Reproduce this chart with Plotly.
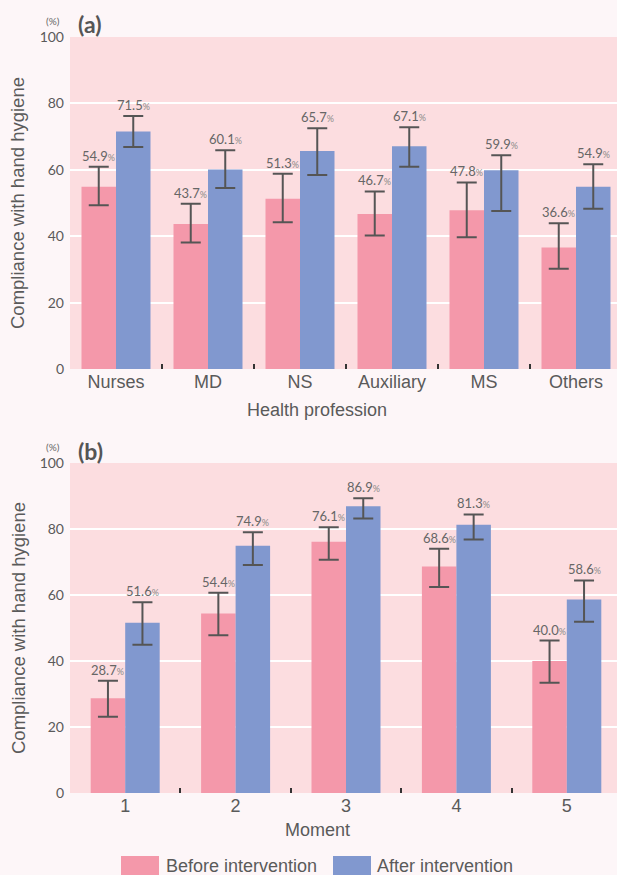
import plotly.graph_objects as go
from plotly.subplots import make_subplots

# ---- data ----
professions = ["Nurses", "MD", "NS", "Auxiliary", "MS", "Others"]
a_before = [54.9, 43.7, 51.3, 46.7, 47.8, 36.6]
a_after = [71.5, 60.1, 65.7, 67.1, 59.9, 54.9]
a_before_hi = [60.9, 49.8, 58.8, 53.5, 56.2, 43.9]
a_before_lo = [49.3, 38.1, 44.2, 40.2, 39.7, 30.2]
a_after_hi = [76.2, 65.9, 72.5, 72.8, 64.4, 61.7]
a_after_lo = [66.9, 54.5, 58.4, 60.9, 47.6, 48.3]

moments = ["1", "2", "3", "4", "5"]
b_before = [28.7, 54.4, 76.1, 68.6, 40.0]
b_after = [51.6, 74.9, 86.9, 81.3, 58.6]
b_before_hi = [34.0, 60.7, 80.5, 74.0, 46.2]
b_before_lo = [23.1, 47.8, 70.7, 62.4, 33.4]
b_after_hi = [57.8, 79.0, 89.3, 84.4, 64.4]
b_after_lo = [44.9, 69.1, 83.2, 76.8, 51.9]

series_names = ["Before intervention", "After intervention"]
y_ticks = [0, 20, 40, 60, 80, 100]
y_title = "Compliance with hand hygiene"

PINK = "#f498aa"
BLUE = "#8198cf"
ERR = "#555555"
TXT = "#5a5a5a"
COLORS = [PINK, BLUE]

W, H = 617, 875
L, R, T, B = 70, 0, 37, 82
plot_w = W - L - R
plot_h = H - T - B

def py(px):
    return (H - B - px) / plot_h

def pxp(px):
    return (px - L) / plot_w

fig = make_subplots(rows=2, cols=1, vertical_spacing=0.12)

def add_panel(row, cats, series, cat_px, bar_px):
    xs = list(range(len(cats)))
    xref = "x" if row == 1 else "x2"
    yref = "y" if row == 1 else "y2"
    bar_w = bar_px / cat_px
    for k, (name, vals, hi, lo) in enumerate(series):
        fig.add_trace(go.Bar(
            x=xs, y=vals, name=name,
            width=bar_w, offset=(-bar_w if k == 0 else 0),
            marker=dict(color=COLORS[k], line=dict(width=0)),
            error_y=dict(type="data", symmetric=False,
                         array=[h - v for h, v in zip(hi, vals)],
                         arrayminus=[v - l for v, l in zip(vals, lo)],
                         color=ERR, thickness=2, width=10),
            showlegend=False, hoverinfo="skip",
        ), row=row, col=1)
        for i, (v, h) in enumerate(zip(vals, hi)):
            fig.add_annotation(
                x=i + (-bar_w / 2 if k == 0 else bar_w / 2), y=h,
                xref=xref, yref=yref, yshift=1,
                yanchor="bottom", showarrow=False,
                text=f"{v:.1f}<span style='font-size:9px;color:#8a8a8a'>%</span>",
                font=dict(family="Lato", size=13, color="#666666"),
            )
    n = len(cats)
    fig.update_xaxes(
        row=row, col=1, range=[-0.5, -0.5 + plot_w / cat_px],
        tickmode="array", tickvals=xs, ticktext=cats, ticks="",
        showgrid=False, zeroline=False, showline=False,
        tickfont=dict(family="Liberation Sans", size=18, color=TXT),
        minor=dict(tickmode="array", tickvals=[i + 0.5 for i in range(n - 1)],
                   ticks="inside", ticklen=5, tickwidth=1.5, tickcolor="#333333",
                   showgrid=False),
    )
    fig.update_yaxes(
        row=row, col=1, range=[0, 100], tickvals=y_ticks,
        showgrid=True, gridcolor="#ffffff", gridwidth=1.5, zeroline=False,
        showline=False, ticks="", ticklabelstandoff=5,
        tickfont=dict(family="Lato", size=14, color=TXT),
    )

add_panel(1, professions,
          [(series_names[0], a_before, a_before_hi, a_before_lo),
           (series_names[1], a_after, a_after_hi, a_after_lo)], 92.0, 34.5)
add_panel(2, moments,
          [(series_names[0], b_before, b_before_hi, b_before_lo),
           (series_names[1], b_after, b_after_hi, b_after_lo)], 110.4, 34.5)

fig.update_layout(
    width=W, height=H,
    margin=dict(l=L, r=R, t=T, b=B),
    paper_bgcolor="#fdf6f8",
    plot_bgcolor="#fcdde0",
    barmode="overlay",
    showlegend=False,
    font=dict(family="Liberation Sans", color=TXT),
    yaxis=dict(domain=[py(369), 1.0]),
    yaxis2=dict(domain=[0.0, py(463)]),
)

# y axis titles
for top, bot in [(37, 369), (463, 793)]:
    fig.add_annotation(x=pxp(18), y=py((top + bot) / 2), xref="paper", yref="paper",
                       xanchor="center", yanchor="middle", showarrow=False,
                       textangle=-90, text=y_title,
                       font=dict(family="Liberation Sans", size=18.5, color=TXT))

# axis titles (x)
for txt, ypx in [("Health profession", 410), ("Moment", 830)]:
    fig.add_annotation(x=pxp(317), y=py(ypx), xref="paper", yref="paper",
                       xanchor="center", yanchor="middle", showarrow=False,
                       text=txt, font=dict(family="Liberation Sans", size=18, color=TXT))

# panel labels
for lab, ypx, pctpx in [("(a)", 24, 21), ("(b)", 451, 447)]:
    fig.add_annotation(x=pxp(76), y=py(ypx), xref="paper", yref="paper",
                       xanchor="left", yanchor="middle", showarrow=False,
                       text=f"<b>{lab}</b>",
                       font=dict(family="Lato", size=23, color="#555555"))
    fig.add_annotation(x=pxp(62), y=py(pctpx), xref="paper", yref="paper",
                       xanchor="right", yanchor="middle", showarrow=False,
                       text="(%)", font=dict(family="Lato", size=10, color="#666666"))

# legend (swatches + text)
for k, (x0, x1, tx) in enumerate([(121, 159, 164), (333, 371, 375)]):
    fig.add_shape(type="rect", xref="paper", yref="paper",
                  x0=pxp(x0), x1=pxp(x1), y0=py(875), y1=py(856),
                  fillcolor=COLORS[k], line=dict(width=0))
    fig.add_annotation(x=pxp(tx), y=py(866), xref="paper", yref="paper",
                       xanchor="left", yanchor="middle", showarrow=False,
                       text=series_names[k],
                       font=dict(family="Liberation Sans", size=18, color=TXT))

fig.write_html("out.html", config={"displayModeBar": False},
               post_script="document.body.style.margin='0';document.body.style.overflow='hidden';")
